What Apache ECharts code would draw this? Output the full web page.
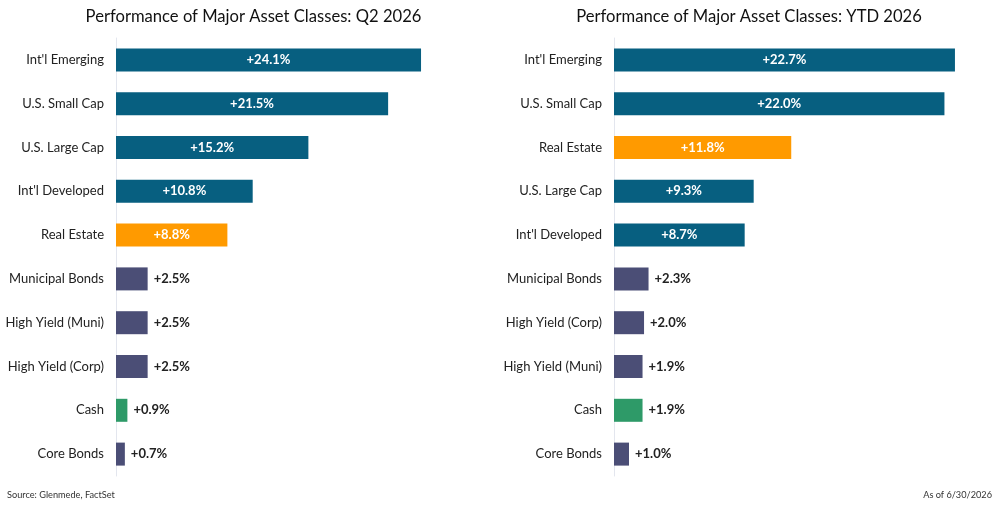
<!DOCTYPE html>
<html>
<head>
<meta charset="utf-8">
<script src="https://cdn.jsdelivr.net/npm/echarts@6/dist/echarts.min.js"></script>
<style>
html,body{margin:0;padding:0;background:#fff;}
#chart{width:1000px;height:506px;}
</style>
</head>
<body>
<div id="chart"></div>
<script>
// ---- data ----
const q2Categories = ["Int'l Emerging","U.S. Small Cap","U.S. Large Cap","Int'l Developed","Real Estate","Municipal Bonds","High Yield (Muni)","High Yield (Corp)","Cash","Core Bonds"];
const q2Values = [24.1, 21.5, 15.2, 10.8, 8.8, 2.5, 2.5, 2.5, 0.9, 0.7];
const ytdCategories = ["Int'l Emerging","U.S. Small Cap","Real Estate","U.S. Large Cap","Int'l Developed","Municipal Bonds","High Yield (Corp)","High Yield (Muni)","Cash","Core Bonds"];
const ytdValues = [22.7, 22.0, 11.8, 9.3, 8.7, 2.3, 2.0, 1.9, 1.9, 1.0];
const titles = ["Performance of Major Asset Classes: Q2 2026", "Performance of Major Asset Classes: YTD 2026"];
const sourceText = "Source: Glenmede, FactSet";
const asOfText = "As of 6/30/2026";

// ---- styling ----
const FONT = "Lato, 'Noto Sans', sans-serif";
function colorFor(cat){
  if (cat === "Real Estate") return "#ff9a00";
  if (cat === "Cash") return "#2e9a68";
  if (/Bonds|High Yield/.test(cat)) return "#4b4e76";
  return "#075f80";
}
function fmt(v){ return (v >= 0 ? "+" : "") + v.toFixed(1) + "%"; }
function buildData(cats, vals){
  return vals.map((v, i) => {
    const inside = v >= 5;
    return {
      value: v,
      itemStyle: { color: colorFor(cats[i]) },
      label: {
        show: true,
        position: inside ? "inside" : "right",
        distance: 6,
        color: inside ? "#ffffff" : "#222222",
        fontWeight: "bold",
        fontSize: 13,
        fontFamily: FONT,
        formatter: p => fmt(p.value)
      }
    };
  });
}

const chart = echarts.init(document.getElementById('chart'), null, {renderer: 'canvas'});
const gridTop = 38, gridHeight = 438;
const titleStyle = { fontFamily: FONT, fontSize: 16.6, fontWeight: "normal", color: "#111" };
const footStyle = { fontFamily: FONT, fontSize: 9.2, fontWeight: "normal", color: "#333" };
const option = {
  backgroundColor: "#ffffff",
  animation: false,
  title: [
    { text: titles[0], left: 253.5, top: 8, padding: 0, textAlign: "center", textStyle: titleStyle },
    { text: titles[1], left: 749, top: 8, padding: 0, textAlign: "center", textStyle: titleStyle },
    { text: sourceText, left: 7, top: 491, padding: 0, textStyle: footStyle },
    { text: asOfText, right: 8, top: 491, padding: 0, textStyle: footStyle }
  ],
  grid: [
    { left: 116, top: gridTop, width: 354.4, height: gridHeight },
    { left: 614, top: gridTop, width: 375.5, height: gridHeight }
  ],
  xAxis: [0, 1].map(i => ({
    gridIndex: i, type: "value", min: 0, max: i === 0 ? 28 : 25,
    show: false
  })),
  yAxis: [
    { gridIndex: 0, cats: q2Categories },
    { gridIndex: 1, cats: ytdCategories }
  ].map(a => ({
    gridIndex: a.gridIndex, type: "category", inverse: true, data: a.cats,
    axisLine: { show: true, lineStyle: { color: "#e3e6ee", width: 1 } },
    axisTick: { show: false },
    splitLine: { show: false },
    axisLabel: { fontFamily: FONT, fontSize: 13, color: "#222", margin: 12 }
  })),
  series: [
    { type: "bar", xAxisIndex: 0, yAxisIndex: 0, barWidth: 23,
      data: buildData(q2Categories, q2Values) },
    { type: "bar", xAxisIndex: 1, yAxisIndex: 1, barWidth: 23,
      data: buildData(ytdCategories, ytdValues) }
  ]
};
chart.setOption(option);
</script>
</body>
</html>
